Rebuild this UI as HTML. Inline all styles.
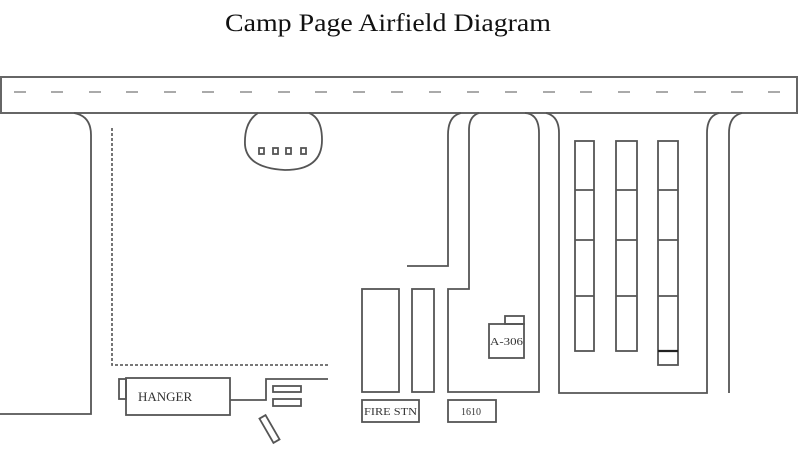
<!DOCTYPE html>
<html><head><meta charset="utf-8"><style>
html,body{margin:0;padding:0;background:#fff;width:800px;height:470px;overflow:hidden}
svg{display:block}
</style></head><body>
<svg width="800" height="470" viewBox="0 0 800 470" xmlns="http://www.w3.org/2000/svg">
<text x="388" y="31" text-anchor="middle" font-family="Liberation Serif, serif" font-size="25" textLength="326" lengthAdjust="spacingAndGlyphs" fill="#111">Camp Page Airfield Diagram</text>
<g fill="none" stroke="#666" stroke-width="2">
<rect x="1" y="77" width="796" height="36"/>
</g>
<g stroke="#aaa" stroke-width="2">
<line x1="14" y1="92" x2="26" y2="92"/><line x1="51" y1="92" x2="63" y2="92"/><line x1="89" y1="92" x2="101" y2="92"/><line x1="126" y1="92" x2="138" y2="92"/><line x1="164" y1="92" x2="176" y2="92"/><line x1="202" y1="92" x2="214" y2="92"/><line x1="240" y1="92" x2="252" y2="92"/><line x1="278" y1="92" x2="290" y2="92"/><line x1="315" y1="92" x2="327" y2="92"/><line x1="353" y1="92" x2="365" y2="92"/><line x1="391" y1="92" x2="403" y2="92"/><line x1="429" y1="92" x2="441" y2="92"/><line x1="467" y1="92" x2="479" y2="92"/><line x1="505" y1="92" x2="517" y2="92"/><line x1="543" y1="92" x2="555" y2="92"/><line x1="580" y1="92" x2="592" y2="92"/><line x1="618" y1="92" x2="630" y2="92"/><line x1="656" y1="92" x2="668" y2="92"/><line x1="694" y1="92" x2="706" y2="92"/><line x1="731" y1="92" x2="743" y2="92"/><line x1="768" y1="92" x2="780" y2="92"/>
</g>
<g fill="none" stroke="#555" stroke-width="1.8">
<path d="M74 113 Q91 116 91 135 L91 414 L0 414"/>
<path d="M309 113 Q322 118 322 140 Q322 170 285 170 Q247 168 245 145 Q244 122 258 113"/>
<rect x="259" y="148" width="5" height="6"/><rect x="273" y="148" width="5" height="6"/><rect x="286" y="148" width="5" height="6"/><rect x="301" y="148" width="5" height="6"/>
<path d="M461 113 Q448 116 448 135 L448 266 L407 266"/>
<path d="M479 113 Q469 116 469 130 L469 289 L448 289 L448 392 L539 392 L539 133 Q539 114 525 113"/>
<path d="M546 113 Q559 116 559 133 L559 393 L707 393 L707 133 Q707 116 719 113"/>
<path d="M742 113 Q729 116 729 133 L729 393"/>
<rect x="575" y="141" width="19" height="210"/><line x1="575" y1="190" x2="594" y2="190"/><line x1="575" y1="240" x2="594" y2="240"/><line x1="575" y1="296" x2="594" y2="296"/>
<rect x="616" y="141" width="21" height="210"/><line x1="616" y1="190" x2="637" y2="190"/><line x1="616" y1="240" x2="637" y2="240"/><line x1="616" y1="296" x2="637" y2="296"/>
<rect x="658" y="141" width="20" height="224"/><line x1="658" y1="190" x2="678" y2="190"/><line x1="658" y1="240" x2="678" y2="240"/><line x1="658" y1="296" x2="678" y2="296"/>
<line x1="658" y1="351" x2="678" y2="351" stroke="#222" stroke-width="2.2"/>
<rect x="362" y="289" width="37" height="103"/>
<rect x="412" y="289" width="22" height="103"/>
<rect x="489" y="324" width="35" height="34"/><rect x="505" y="316" width="19" height="8"/>
<rect x="362" y="400" width="57" height="22"/>
<rect x="448" y="400" width="48" height="22"/>
<rect x="126" y="378" width="104" height="37"/><rect x="119" y="379" width="7" height="20"/>
<path d="M230 400 L266 400 L266 379 L328 379"/>
<rect x="273" y="386" width="28" height="6"/><rect x="273" y="399" width="28" height="7"/>
<rect x="266" y="415" width="7" height="28" transform="rotate(-30 269.5 429)"/>
</g>
<path d="M112 128 L112 365 L328 365" fill="none" stroke="#666" stroke-width="1.8" stroke-dasharray="3,2"/>
<g font-family="Liberation Serif, serif" fill="#333">
<text x="138" y="401" font-size="13">HANGER</text>
<text x="364" y="415" font-size="10" textLength="53" lengthAdjust="spacingAndGlyphs">FIRE STN</text>
<text x="461" y="415" font-size="10">1610</text>
<text x="490" y="345" font-size="10" textLength="33" lengthAdjust="spacingAndGlyphs">A-306</text>
</g>
</svg>
</body></html>
